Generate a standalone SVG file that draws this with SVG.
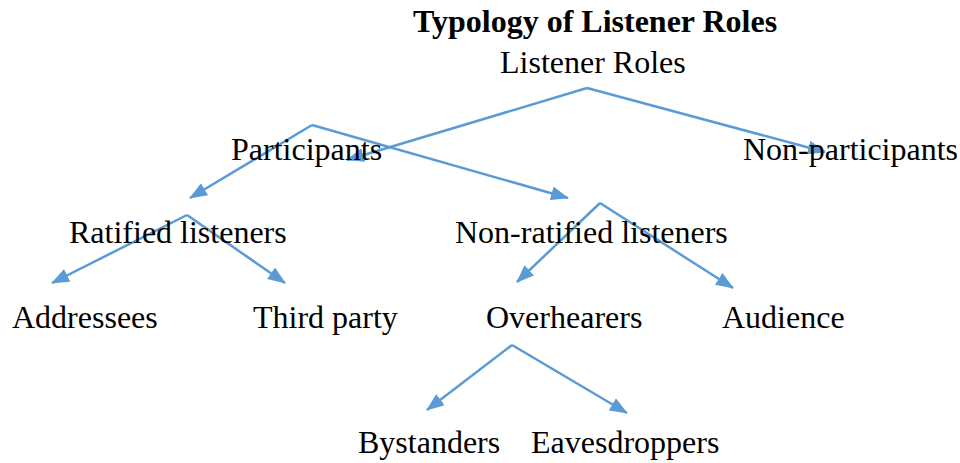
<svg xmlns="http://www.w3.org/2000/svg" width="960" height="463" viewBox="0 0 960 463">
  <style>
    .lbl { font-family: "Liberation Serif", "Times New Roman", serif; font-size: 32px; fill: #000; }
    .title { font-weight: bold; }
    .edge { fill: none; stroke: #5B9BD5; stroke-width: 2.5; marker-end: url(#arrow); }
  </style>
  <defs>
    <marker id="arrow" viewBox="0 0 18 14" refX="17" refY="7" markerWidth="18" markerHeight="14" markerUnits="userSpaceOnUse" orient="auto">
      <path d="M0,0 L18,7 L0,14 z" fill="#5B9BD5"/>
    </marker>
  </defs>
  <rect width="960" height="463" fill="#fff"/>

  <g id="title"><text class="lbl title" x="413" y="32">Typology of Listener Roles</text></g>

  <g id="connectors">
    <path class="edge" d="M587,88 L347,160"/>
    <path class="edge" d="M587,88 L825,152"/>
    <path class="edge" d="M312,125 L190,198"/>
    <path class="edge" d="M312,125 L568,198"/>
    <path class="edge" d="M187,215 L52,283"/>
    <path class="edge" d="M187,215 L285,283"/>
    <path class="edge" d="M600,203 L517,282"/>
    <path class="edge" d="M600,203 L733,288"/>
    <path class="edge" d="M512,345 L427,410"/>
    <path class="edge" d="M512,345 L627,413"/>
  </g>

  <g id="listener-roles"><text class="lbl" x="500" y="73">Listener Roles</text></g>
  <g id="participants"><text class="lbl" x="231" y="160">Participants</text></g>
  <g id="non-participants"><text class="lbl" x="743" y="160">Non-participants</text></g>
  <g id="ratified"><text class="lbl" x="69" y="243">Ratified listeners</text></g>
  <g id="non-ratified"><text class="lbl" x="455" y="243">Non-ratified listeners</text></g>
  <g id="addressees"><text class="lbl" x="12" y="328">Addressees</text></g>
  <g id="third-party"><text class="lbl" x="253" y="328">Third party</text></g>
  <g id="overhearers"><text class="lbl" x="486" y="328">Overhearers</text></g>
  <g id="audience"><text class="lbl" x="722" y="328">Audience</text></g>
  <g id="bystanders"><text class="lbl" x="358" y="453">Bystanders</text></g>
  <g id="eavesdroppers"><text class="lbl" x="531" y="453">Eavesdroppers</text></g>
</svg>
